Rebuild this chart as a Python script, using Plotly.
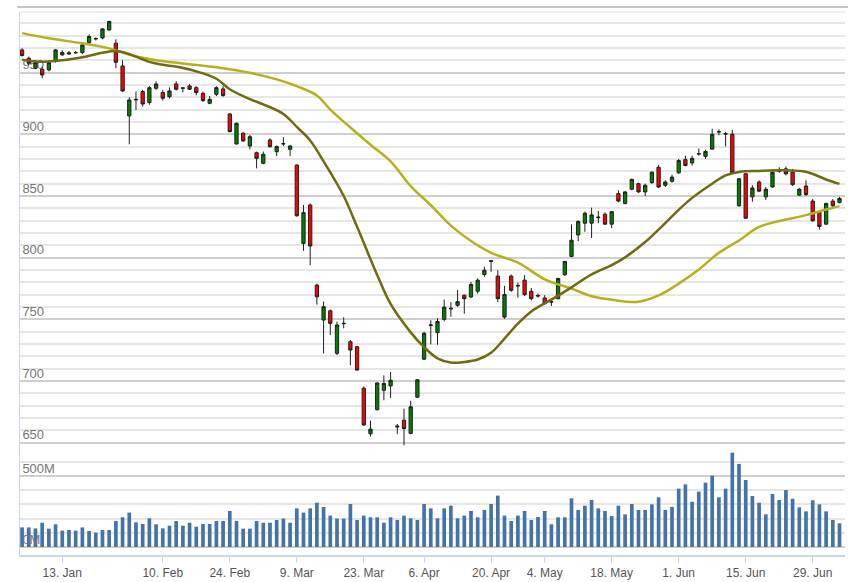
import plotly.graph_objects as go
import pandas as pd

# ---------------- data (daily index chart, 2020) ----------------
holidays = ["2020-01-23", "2020-01-24", "2020-01-27", "2020-01-28", "2020-01-29",
            "2020-04-02", "2020-04-30", "2020-05-01"]
dates = [d.strftime("%Y-%m-%d") for d in pd.bdate_range("2020-01-03", "2020-07-03")
         if d.strftime("%Y-%m-%d") not in holidays]

open_ = [968.4, 961.6, 953.5, 952.7, 952.2, 959.7, 964.3, 965.0, 966.0, 966.2,
         974.3, 977.3, 978.1, 984.6, 973.8, 955.4, 914.9, 927.8, 934.6, 925.7,
         937.3, 933.8, 930.5, 940.8, 937.3, 939.2, 937.8, 933.2, 925.1, 932.4,
         936.8, 916.5, 892.2, 900.8, 890.5, 885.1, 876.5, 895.4, 885.9, 892.2,
         887.8, 875.1, 811.6, 842.7, 777.8, 749.5, 757.0, 722.5, 746.5, 731.9,
         727.9, 694.2, 657.3, 676.9, 692.6, 696.1, 662.8, 668.3, 657.6, 687.0,
         717.8, 745.0, 739.3, 750.0, 758.5, 761.4, 769.6, 768.2, 772.8, 786.4,
         797.0, 785.1, 751.9, 785.1, 777.5, 781.8, 772.8, 769.4, 767.4, 764.0,
         766.8, 786.2, 801.0, 818.5, 828.0, 828.0, 832.4, 835.2, 827.2, 852.0,
         844.0, 855.5, 860.0, 853.3, 860.8, 873.3, 858.7, 861.9, 868.8, 879.5,
         876.8, 884.0, 882.1, 888.0, 901.9, 900.5, 900.0, 842.1, 868.0, 849.3,
         861.3, 849.3, 857.3, 870.1, 872.0, 869.3, 850.7, 858.1, 845.9, 836.8,
         827.2, 845.9, 844.8]
high = [969.7, 963.0, 960.0, 954.9, 960.0, 969.0, 968.0, 967.5, 967.5, 973.0,
        981.0, 978.5, 986.0, 992.0, 977.0, 960.0, 930.0, 934.6, 936.0, 939.0,
        943.0, 936.0, 938.0, 943.0, 938.0, 940.8, 939.0, 934.6, 931.0, 939.0,
        939.0, 917.0, 909.5, 902.0, 899.5, 886.0, 886.0, 896.8, 891.0, 897.6,
        891.4, 875.5, 842.7, 844.0, 779.0, 764.4, 758.0, 748.2, 751.7, 733.3,
        728.5, 695.6, 668.1, 699.1, 704.7, 707.4, 665.3, 677.7, 684.1, 701.6,
        740.0, 749.3, 751.0, 766.0, 764.0, 773.8, 770.1, 780.4, 783.2, 792.7,
        798.1, 789.9, 777.2, 786.4, 779.9, 785.9, 775.5, 770.9, 769.6, 766.8,
        783.7, 797.3, 827.0, 830.3, 837.4, 840.6, 837.9, 836.8, 837.9, 854.7,
        853.9, 864.0, 860.8, 860.0, 869.9, 875.2, 862.7, 867.2, 880.0, 882.7,
        882.7, 888.5, 887.5, 904.5, 904.0, 901.9, 903.5, 864.5, 868.5, 858.7,
        862.7, 857.3, 869.9, 873.3, 874.1, 872.0, 856.5, 862.7, 847.5, 837.9,
        844.5, 847.5, 849.3]
low = [963.0, 956.0, 952.7, 945.4, 951.0, 958.0, 963.8, 964.5, 965.5, 965.0,
       973.0, 976.0, 977.0, 983.6, 953.5, 934.6, 891.9, 919.7, 922.4, 924.0,
       936.0, 927.3, 929.0, 935.4, 934.0, 936.0, 931.6, 926.2, 924.3, 931.0,
       930.5, 901.6, 891.6, 894.0, 887.8, 872.4, 875.7, 889.2, 882.4, 890.5,
       882.4, 833.2, 805.6, 794.0, 762.0, 722.5, 737.3, 721.1, 742.8, 713.0,
       708.4, 663.7, 655.1, 676.1, 684.5, 686.4, 657.2, 648.0, 657.0, 686.4,
       717.0, 729.8, 729.5, 748.5, 752.2, 760.2, 754.6, 767.4, 770.9, 784.5,
       788.6, 764.1, 750.5, 772.3, 767.7, 769.0, 765.5, 767.7, 762.0, 760.9,
       766.3, 785.3, 800.4, 813.4, 821.0, 816.0, 828.0, 826.7, 824.0, 844.8,
       843.2, 854.7, 852.5, 850.1, 860.0, 856.5, 857.3, 860.8, 868.0, 874.1,
       874.7, 882.7, 880.0, 887.5, 899.2, 890.1, 868.0, 841.3, 831.5, 845.3,
       853.3, 846.7, 856.8, 868.8, 866.7, 858.1, 850.1, 850.1, 829.3, 822.7,
       826.7, 840.0, 844.0]
close = [963.8, 957.6, 958.1, 948.1, 958.1, 968.4, 966.2, 966.0, 966.2, 972.4,
         979.2, 977.5, 985.4, 991.4, 958.4, 935.1, 927.8, 928.3, 924.6, 937.8,
         940.8, 929.2, 935.1, 936.5, 937.6, 936.5, 933.8, 927.3, 928.3, 937.8,
         931.4, 902.2, 908.9, 894.6, 898.1, 880.5, 883.8, 890.0, 890.0, 892.4,
         890.5, 834.0, 836.5, 809.5, 768.3, 760.3, 746.8, 745.5, 746.8, 725.2,
         709.0, 664.5, 661.1, 698.5, 698.1, 700.7, 663.5, 661.6, 679.2, 701.1,
         738.8, 745.5, 748.3, 760.0, 759.0, 764.4, 766.8, 778.3, 781.8, 789.9,
         797.5, 766.8, 770.1, 773.6, 777.2, 770.1, 766.8, 769.0, 762.8, 764.3,
         783.2, 797.0, 814.2, 829.3, 836.0, 834.7, 832.8, 827.2, 837.3, 845.9,
         853.3, 863.5, 853.3, 858.7, 869.3, 857.3, 861.3, 865.3, 878.7, 874.7,
         880.5, 884.3, 886.1, 900.0, 902.1, 900.2, 868.8, 864.0, 832.0, 856.5,
         853.9, 855.5, 869.3, 870.5, 868.0, 859.2, 855.5, 851.2, 829.9, 825.3,
         844.0, 842.1, 848.0]
volume_m = [138, 138, 131, 171, 129, 160, 115, 120, 115, 138,
            113, 101, 120, 120, 183, 209, 242, 174, 162, 202,
            160, 131, 150, 183, 150, 171, 143, 162, 162, 183,
            183, 254, 183, 129, 129, 183, 171, 171, 190, 200,
            171, 272, 242, 272, 312, 282, 221, 200, 200, 303,
            190, 221, 209, 209, 171, 209, 190, 221, 202, 190,
            303, 272, 202, 272, 291, 202, 221, 254, 209, 261,
            303, 362, 221, 183, 221, 254, 190, 211, 254, 160,
            209, 209, 343, 261, 291, 331, 272, 254, 218, 291,
            230, 303, 261, 261, 300, 350, 261, 282, 411, 441,
            319, 390, 453, 502, 350, 411, 664, 585, 472, 359,
            312, 230, 373, 331, 401, 340, 279, 251, 329, 300,
            251, 190, 167]

# moving averages
ma_fast_dates = ["2020-01-03", "2020-01-07", "2020-01-09", "2020-01-13", "2020-01-16",
                 "2020-01-21", "2020-01-30", "2020-02-03", "2020-02-06", "2020-02-10",
                 "2020-02-13", "2020-02-17", "2020-02-20", "2020-02-24", "2020-02-27",
                 "2020-03-02", "2020-03-05", "2020-03-09", "2020-03-11", "2020-03-13",
                 "2020-03-18", "2020-03-20", "2020-03-25", "2020-03-27", "2020-04-01",
                 "2020-04-06", "2020-04-08", "2020-04-10", "2020-04-14", "2020-04-16",
                 "2020-04-20", "2020-04-22", "2020-04-24", "2020-04-28", "2020-05-05",
                 "2020-05-08", "2020-05-13", "2020-05-18", "2020-05-20", "2020-05-25",
                 "2020-05-27", "2020-06-01", "2020-06-03", "2020-06-08", "2020-06-10",
                 "2020-06-12", "2020-06-17", "2020-06-23", "2020-06-26", "2020-07-01",
                 "2020-07-03"]
ma_fast = [960.5, 958.9, 958.9, 960.0, 962.4, 966.1, 967.5, 965.0, 958.7, 956.4,
           953.8, 951.0, 945.0, 936.5, 928.5, 924.3, 916.5, 906.0, 895.0, 878.0,
           850.0, 825.0, 786.0, 762.5, 739.5, 727.5, 718.5, 715.0, 715.5, 717.5,
           723.0, 734.5, 746.5, 756.5, 766.0, 776.0, 786.5, 794.0, 800.3, 812.7,
           822.8, 838.8, 848.5, 860.0, 866.7, 869.5, 870.3, 870.8, 869.7, 863.4,
           859.8]

ma_slow_dates = ["2020-01-03", "2020-01-09", "2020-01-16", "2020-01-22", "2020-02-03",
                 "2020-02-07", "2020-02-13", "2020-02-20", "2020-02-27", "2020-03-04",
                 "2020-03-09", "2020-03-12", "2020-03-16", "2020-03-19", "2020-03-24",
                 "2020-03-27", "2020-04-01", "2020-04-07", "2020-04-10", "2020-04-15",
                 "2020-04-20", "2020-04-24", "2020-05-04", "2020-05-08", "2020-05-13",
                 "2020-05-18", "2020-05-22", "2020-05-27", "2020-06-01", "2020-06-04",
                 "2020-06-09", "2020-06-12", "2020-06-17", "2020-06-22", "2020-06-26",
                 "2020-07-01", "2020-07-03"]
ma_slow = [982.0, 977.8, 973.7, 969.6, 964.5, 960.0, 957.4, 954.3, 949.8, 944.5,
           939.0, 931.5, 920.0, 905.5, 891.5, 878.0, 858.0, 842.5, 826.0, 813.5,
           804.0, 796.0, 782.5, 775.0, 768.8, 766.0, 764.3, 769.4, 779.0, 790.5,
           804.0, 814.0, 824.9, 829.7, 834.5, 839.0, 841.8]

tick_dates = ["2020-01-13", "2020-02-10", "2020-02-24", "2020-03-09", "2020-03-23",
              "2020-04-06", "2020-04-20", "2020-05-04", "2020-05-18", "2020-06-01",
              "2020-06-15", "2020-06-29"]
tick_labels = ["13. Jan", "10. Feb", "24. Feb", "9. Mar", "23. Mar", "6. Apr",
               "20. Apr", "4. May", "18. May", "1. Jun", "15. Jun", "29. Jun"]

# ---------------- figure ----------------
FONT = "Liberation Sans, Arial, sans-serif"
AXIS_LINE = "#ccd6eb"
GRID_MAJOR = "#cfcfcf"
GRID_MINOR = "#e6e6e6"

fig = go.Figure()

fig.add_trace(go.Bar(
    x=dates, y=volume_m, xaxis="x", yaxis="y2",
    marker=dict(color="#4572a7", line=dict(width=0)), width=0.55,
    showlegend=False, hoverinfo="x+y"))

fig.add_trace(go.Candlestick(
    x=dates, open=open_, high=high, low=low, close=close,
    xaxis="x", yaxis="y",
    increasing=dict(fillcolor="#008000", line=dict(color="#1f1f1f", width=1)),
    decreasing=dict(fillcolor="#ff0000", line=dict(color="#1f1f1f", width=1)),
    whiskerwidth=0, showlegend=False))

fig.add_trace(go.Scatter(
    x=ma_slow_dates, y=ma_slow, mode="lines", xaxis="x", yaxis="y",
    line=dict(color="#b3b21c", width=2.5, shape="spline", smoothing=1),
    showlegend=False))
fig.add_trace(go.Scatter(
    x=ma_fast_dates, y=ma_fast, mode="lines", xaxis="x", yaxis="y",
    line=dict(color="#6e6b12", width=2.5, shape="spline", smoothing=1),
    showlegend=False))

split = (555 - 449) / 543.0

fig.update_layout(
    width=848, height=582,
    margin=dict(l=20, r=3, t=12, b=27),
    paper_bgcolor="white", plot_bgcolor="white",
    font=dict(family=FONT, size=13, color="#666666"),
    xaxis=dict(
        type="category", categoryorder="array", categoryarray=dates,
        range=[-0.31, 122.82], anchor="y2",
        rangeslider=dict(visible=False),
        tickmode="array", tickvals=tick_dates, ticktext=tick_labels,
        ticks="outside", ticklen=6, tickcolor=AXIS_LINE, tickwidth=1,
        showgrid=False, showline=True, linecolor=AXIS_LINE, linewidth=2,
        tickfont=dict(family=FONT, size=12, color="#555555"),
        zeroline=False),
    yaxis=dict(
        domain=[split, 1.0], range=[645, 999.1], anchor="x",
        tick0=0, dtick=50, showgrid=True, gridcolor=GRID_MAJOR, gridwidth=2,
        minor=dict(dtick=10, tick0=0, showgrid=True, gridcolor=GRID_MINOR, gridwidth=2),
        ticklabelposition="inside", ticks="", ticklabelshift=-8, ticklabelstandoff=2,
        showline=True, linecolor=AXIS_LINE, linewidth=1,
        layer="below traces", zeroline=False,
        tickfont=dict(family=FONT, size=13, color="#777777")),
    yaxis2=dict(
        domain=[0.0, split], range=[-56.3, 690], anchor="x",
        tick0=0, dtick=500, ticksuffix="M",
        showgrid=True, gridcolor=GRID_MAJOR, gridwidth=2,
        minor=dict(dtick=100, tick0=0, showgrid=True, gridcolor=GRID_MINOR, gridwidth=2),
        ticklabelposition="inside", ticks="", ticklabelshift=-8, ticklabelstandoff=2,
        showline=True, linecolor=AXIS_LINE, linewidth=1,
        layer="above traces", zeroline=False,
        tickfont=dict(family=FONT, size=13, color="#777777")),
    shapes=[
        dict(type="line", xref="paper", yref="paper", x0=-0.003, x1=1.004,
             y0=(555 - 7) / 543.0, y1=(555 - 7) / 543.0,
             line=dict(color="#c4c4c4", width=2)),
        dict(type="line", xref="paper", yref="paper", x0=0, x1=1.0,
             y0=1.0, y1=1.0, line=dict(color="#e0e0e0", width=1)),
    ],
)

fig.write_html("out.html", config={"displayModeBar": False},
               post_script="document.body.style.margin='0';")
